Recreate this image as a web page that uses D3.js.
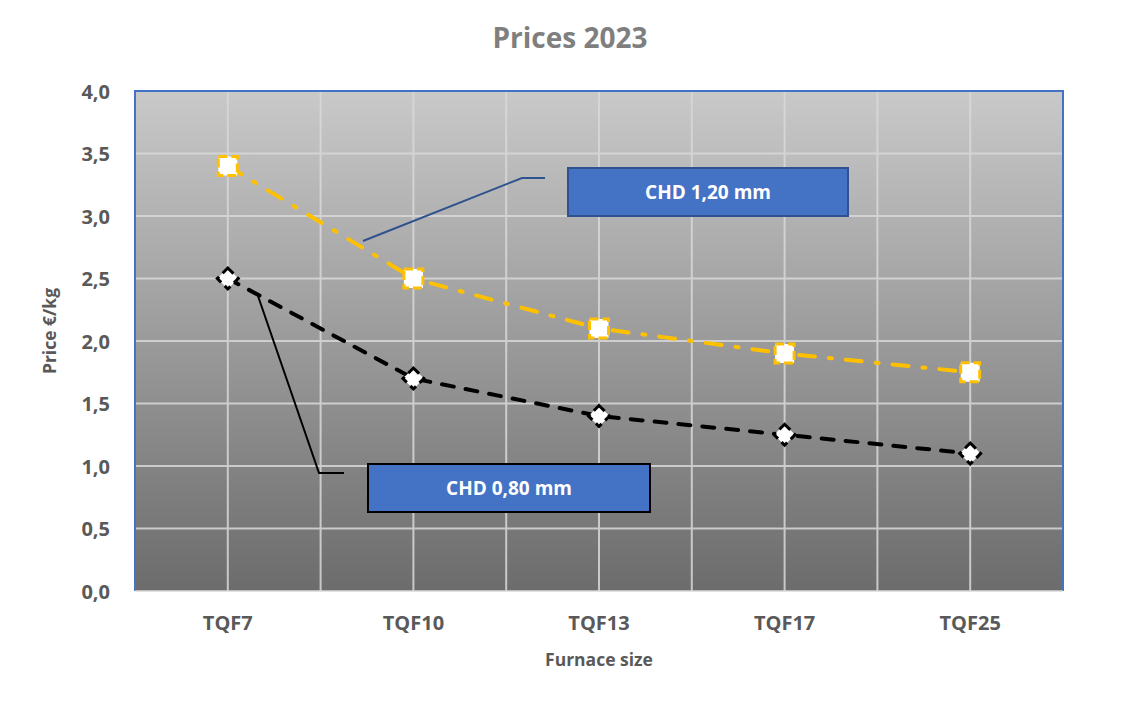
<!DOCTYPE html>
<html>
<head>
<meta charset="utf-8">
<script src="https://cdn.jsdelivr.net/npm/d3@7/dist/d3.min.js"></script>
<style>
  body { margin: 0; background: #fff; }
  text { font-family: "Open Sans", "Noto Sans", sans-serif; }
</style>
</head>
<body>
<svg id="chart" width="1139" height="704"></svg>
<script>
// --- data ---
var furnaces = ['TQF7', 'TQF10', 'TQF13', 'TQF17', 'TQF25'];
var chd120 = [3.4, 2.5, 2.1, 1.9, 1.75];
var chd080 = [2.5, 1.7, 1.4, 1.25, 1.1];
var yTicks = [0, 0.5, 1, 1.5, 2, 2.5, 3, 3.5, 4];

var svg = d3.select('#chart');
var m = { left: 135, right: 1063, top: 91, bottom: 591 };

var x = d3.scaleBand().domain(furnaces).range([m.left, m.right]);
var y = d3.scaleLinear().domain([0, 4]).range([m.bottom, m.top]);
var cx = function(d) { return x(d) + x.bandwidth() / 2; };
var fmt = function(v) { return d3.format('.1f')(v).replace('.', ','); };

// gradient background of the plot area
var grad = svg.append('defs').append('linearGradient')
    .attr('id', 'bg').attr('x1', 0).attr('y1', 0).attr('x2', 0).attr('y2', 1);
grad.append('stop').attr('offset', '0%').attr('stop-color', '#c9c9c9');
grad.append('stop').attr('offset', '100%').attr('stop-color', '#6c6c6c');

svg.append('rect')
    .attr('x', m.left).attr('y', m.top)
    .attr('width', m.right - m.left).attr('height', m.bottom - m.top)
    .attr('fill', 'url(#bg)');

// gridlines
var grid = svg.append('g').attr('stroke', '#d9d9d9').attr('stroke-width', 2).attr('opacity', 0.85);
grid.selectAll('.hy').data(yTicks.slice(1)).enter().append('line')
    .attr('x1', m.left).attr('x2', m.right)
    .attr('y1', function(d) { return y(d); }).attr('y2', function(d) { return y(d); });
// vertical lines at the category centres and band edges
var vx = [];
furnaces.forEach(function(f, i) {
    vx.push(cx(f));
    if (i > 0) vx.push(x(f));
});
grid.selectAll('.vx').data(vx).enter().append('line')
    .attr('x1', function(d) { return d; }).attr('x2', function(d) { return d; })
    .attr('y1', m.top).attr('y2', m.bottom);

// plot border: blue on top, left, right
svg.append('path')
    .attr('d', 'M' + m.left + ',' + m.bottom + 'V' + m.top + 'H' + m.right + 'V' + m.bottom)
    .attr('fill', 'none').attr('stroke', '#4472c4').attr('stroke-width', 2);
svg.append('line')
    .attr('x1', m.left).attr('x2', m.right).attr('y1', m.bottom).attr('y2', m.bottom)
    .attr('stroke', '#d9d9d9').attr('stroke-width', 1.5);

// axes
var yAxis = svg.append('g')
    .attr('transform', 'translate(' + (m.left - 22) + ',0)')
    .call(d3.axisLeft(y).tickValues(yTicks).tickFormat(fmt).tickSize(0));
yAxis.select('.domain').remove();
yAxis.selectAll('text')
    .attr('fill', '#595959').attr('font-size', 20).attr('font-weight', 'bold')
    .attr('dy', '0.36em');

var xAxis = svg.append('g')
    .attr('transform', 'translate(0,' + (m.bottom + 22) + ')')
    .call(d3.axisBottom(x).tickSize(0));
xAxis.select('.domain').remove();
xAxis.selectAll('text')
    .attr('fill', '#595959').attr('font-size', 20).attr('font-weight', 'bold');

// titles
svg.append('text')
    .attr('x', 570).attr('y', 48).attr('text-anchor', 'middle')
    .attr('fill', '#7f7f7f').attr('font-size', 28).attr('font-weight', 'bold')
    .text('Prices 2023');
svg.append('text')
    .attr('x', cx('TQF13')).attr('y', 666).attr('text-anchor', 'middle')
    .attr('fill', '#595959').attr('font-size', 17.5).attr('font-weight', 'bold')
    .text('Furnace size');
svg.append('text')
    .attr('transform', 'translate(56,' + ((m.top + m.bottom) / 2 - 10) + ') rotate(-90)')
    .attr('text-anchor', 'middle')
    .attr('fill', '#595959').attr('font-size', 17.5).attr('font-weight', 'bold')
    .text('Price €/kg');

var line = d3.line()
    .x(function(d, i) { return cx(furnaces[i]); })
    .y(function(d) { return y(d); });

// CHD 1,20 mm series: long dash dot
svg.append('path').datum(chd120)
    .attr('d', line).attr('fill', 'none')
    .attr('stroke', '#ffc000').attr('stroke-width', 4)
    .attr('stroke-dasharray', '16,14,3,14').attr('stroke-linecap', 'round');
svg.selectAll('.sq').data(chd120).enter().append('rect')
    .attr('x', function(d, i) { return cx(furnaces[i]) - 9.5; })
    .attr('y', function(d) { return y(d) - 9.5; })
    .attr('width', 19).attr('height', 19)
    .attr('fill', '#fff').attr('stroke', '#ffc000').attr('stroke-width', 3)
    .attr('stroke-dasharray', '9,4');

// CHD 0,80 mm series: dashed
svg.append('path').datum(chd080)
    .attr('d', line).attr('fill', 'none')
    .attr('stroke', '#000').attr('stroke-width', 4)
    .attr('stroke-dasharray', '12,12').attr('stroke-linecap', 'round');
var diamond = d3.symbol().type(d3.symbolSquare).size(220);
svg.selectAll('.dm').data(chd080).enter().append('path')
    .attr('d', diamond)
    .attr('transform', function(d, i) {
        return 'translate(' + cx(furnaces[i]) + ',' + y(d) + ') rotate(45)';
    })
    .attr('fill', '#fff').attr('stroke', '#000').attr('stroke-width', 3)
    .attr('stroke-dasharray', '8,5');

// callouts
function callout(pts, color, box, border, label) {
    svg.append('path')
        .attr('d', d3.line()(pts))
        .attr('fill', 'none').attr('stroke', color).attr('stroke-width', 2);
    svg.append('rect')
        .attr('x', box[0]).attr('y', box[1]).attr('width', box[2]).attr('height', box[3])
        .attr('fill', '#4472c4').attr('stroke', border).attr('stroke-width', 2);
    svg.append('text')
        .attr('x', box[0] + box[2] / 2).attr('y', box[1] + box[3] / 2)
        .attr('dy', '0.36em').attr('text-anchor', 'middle')
        .attr('fill', '#fff').attr('font-size', 19).attr('font-weight', 'bold')
        .text(label);
}
callout([[363, 241], [522, 178], [545, 178]], '#2f528f', [568, 168, 280, 48], '#2f528f', 'CHD 1,20 mm');
callout([[258, 296], [319, 473], [344, 473]], '#000', [368, 464, 282, 48], '#000', 'CHD 0,80 mm');
</script>
</body>
</html>
